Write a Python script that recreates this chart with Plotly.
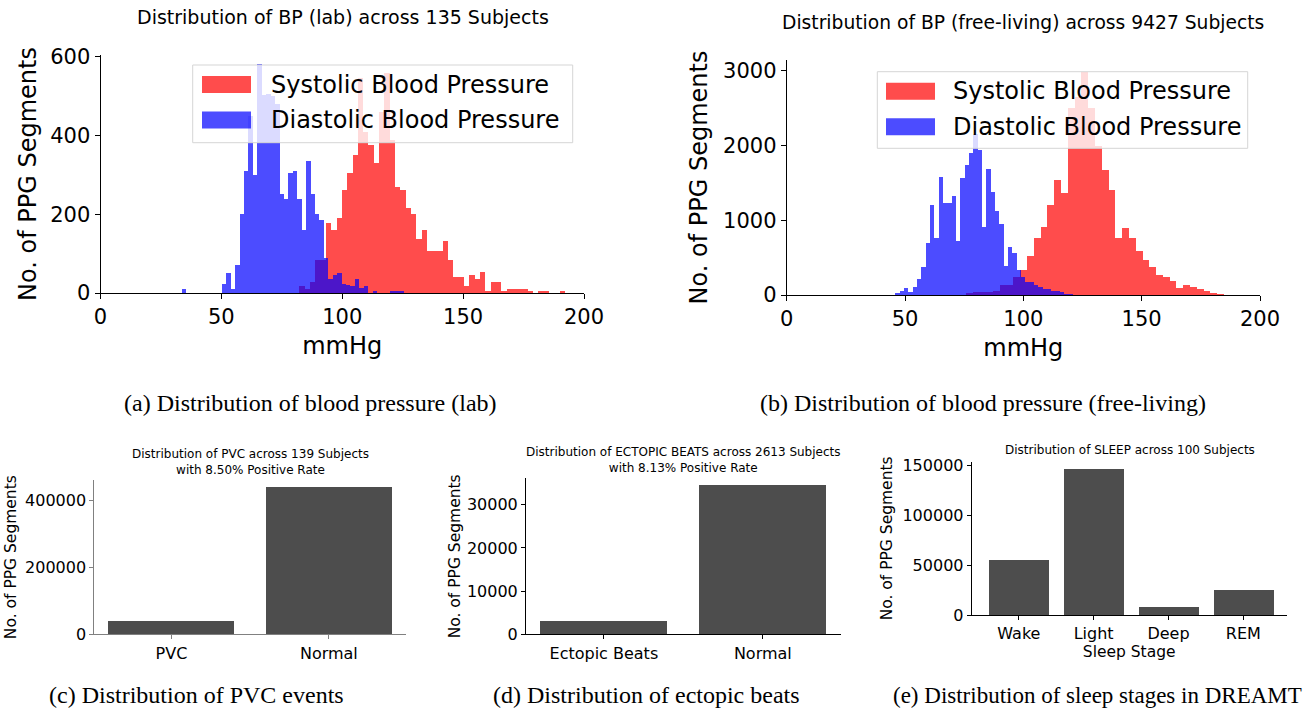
import numpy as np
import plotly.graph_objects as go

# ---------------- data ----------------
# (a) lab blood pressure histograms (50 bins each)
SBP_LAB_START, SBP_LAB_WIDTH = 82.1, 2.196
SBP_LAB_COUNTS = [18, 10, 28, 84, 84, 179, 160, 190, 263, 304,
                  351, 547, 410, 376, 330, 461, 560, 389, 269, 263,
                  215, 202, 137, 160, 107, 107, 107, 132, 84, 40,
                  40, 18, 46, 35, 53, 6, 28, 28, 6, 10,
                  10, 10, 10, 4, 0, 4, 4, 0, 0, 4]
DBP_LAB_START, DBP_LAB_WIDTH = 33.49, 1.834
DBP_LAB_COUNTS = [9, 0, 0, 0, 0, 0, 0, 0, 0, 22,
                  52, 10, 72, 202, 310, 450, 300, 581, 503, 507,
                  500, 480, 252, 239, 304, 310, 239, 160, 335, 251,
                  200, 185, 90, 36, 46, 52, 22, 20, 18, 36,
                  12, 18, 0, 5, 0, 0, 0, 5, 5, 5]
# (b) free-living blood pressure histograms
SBP_FREE_START, SBP_FREE_WIDTH = 75.6, 2.87
SBP_FREE_COUNTS = [30, 35, 40, 45, 55, 134, 134, 245, 335, 522,
                   758, 910, 1205, 1539, 1370, 2500, 2650, 2990, 2500, 1994,
                   1673, 1405, 767, 892, 758, 589, 475, 375, 265, 236,
                   187, 90, 130, 103, 76, 49, 22, 9]
DBP_FREE_START, DBP_FREE_WIDTH = 45.75, 1.83
DBP_FREE_COUNTS = [22, 58, 98, 36, 111, 214, 379, 692, 1205, 767,
                   1575, 1236, 1236, 1325, 723, 1571, 1740, 1900, 2150, 1941,
                   906, 1687, 1374, 1129, 946, 388, 638, 558, 335, 245,
                   170, 178, 134, 112, 80, 80, 54, 54, 36, 18, 18]
# (c) PVC
PVC_CATS = ["PVC", "Normal"]
PVC_VALUES = [40870, 440000]
# (d) ectopic beats
ECT_CATS = ["Ectopic Beats", "Normal"]
ECT_VALUES = [3045, 34400]
# (e) sleep stages
SLEEP_CATS = ["Wake", "Light", "Deep", "REM"]
SLEEP_VALUES = [55800, 146100, 7970, 24900]

BP_TICKS = [0, 50, 100, 150, 200]
LAB_YTICKS = [0, 200, 400, 600]
FREE_YTICKS = [0, 1000, 2000, 3000]

# ---------------- helpers ----------------
W, H = 1307, 711
def fx(p):
    return p / W
def fy(p):
    return 1 - p / H

def edges(start, width, n):
    return [start + width * i for i in range(n)]

FONT = "DejaVu Sans"
SERIF = "Liberation Serif"
RED = "rgba(255,0,0,0.7)"
BLUE = "rgba(0,0,255,0.7)"
GRAY = "#4d4d4d"

fig = go.Figure()

def hist(start, width, counts, color, name, xa, ya):
    fig.add_trace(go.Bar(
        x=edges(start, width, len(counts)), y=counts, width=width, offset=0,
        marker=dict(color=color, line=dict(width=0)), name=name,
        xaxis=xa, yaxis=ya, showlegend=False))

hist(SBP_LAB_START, SBP_LAB_WIDTH, SBP_LAB_COUNTS, RED, "Systolic Blood Pressure", "x", "y")
hist(DBP_LAB_START, DBP_LAB_WIDTH, DBP_LAB_COUNTS, BLUE, "Diastolic Blood Pressure", "x", "y")
hist(SBP_FREE_START, SBP_FREE_WIDTH, SBP_FREE_COUNTS, RED, "Systolic Blood Pressure", "x2", "y2")
hist(DBP_FREE_START, DBP_FREE_WIDTH, DBP_FREE_COUNTS, BLUE, "Diastolic Blood Pressure", "x2", "y2")

for cats, vals, xa, ya in [(PVC_CATS, PVC_VALUES, "x3", "y3"),
                           (ECT_CATS, ECT_VALUES, "x4", "y4"),
                           (SLEEP_CATS, SLEEP_VALUES, "x5", "y5")]:
    fig.add_trace(go.Bar(x=cats, y=vals, width=0.8, marker=dict(color=GRAY, line=dict(width=0)),
                         xaxis=xa, yaxis=ya, showlegend=False))

def axis(domain, rng, tickvals=None, size=21, title=None, tsize=24, standoff=8,
         linecolor="black", ticklen=5, anchor=None):
    d = dict(domain=domain, range=rng, showgrid=False, zeroline=False, automargin=False,
             showline=True, linecolor=linecolor, linewidth=1, tickformat="d",
             ticks="outside", ticklen=ticklen, tickwidth=1, tickcolor=linecolor,
             tickfont=dict(family=FONT, size=size, color="black"))
    if tickvals is not None:
        d["tickvals"] = tickvals
    if title:
        d["title"] = dict(text=title, font=dict(family=FONT, size=tsize, color="black"), standoff=standoff)
    if anchor:
        d["anchor"] = anchor
    return d

layout = dict(
    template="none",
    width=W, height=H, margin=dict(l=0, r=0, t=0, b=0, autoexpand=False),
    paper_bgcolor="white", plot_bgcolor="white", barmode="overlay",
    bargap=0, showlegend=False,
    xaxis=axis([fx(100.5), fx(584)], [0, 200], BP_TICKS, title="mmHg", standoff=8, anchor="y"),
    yaxis=axis([fy(293), fy(55)], [0, 605], LAB_YTICKS, title="No. of PPG Segments", standoff=6, anchor="x"),
    xaxis2=axis([fx(786.7), fx(1260)], [0, 200], BP_TICKS, title="mmHg", standoff=8, anchor="y2"),
    yaxis2=axis([fy(295), fy(60)], [0, 3147], FREE_YTICKS, title="No. of PPG Segments", standoff=8, anchor="x2"),
    xaxis3=axis([fx(94.3), fx(406)], [-0.49, 1.49], None, size=16, linecolor="#808080", ticklen=4, anchor="y3"),
    yaxis3=axis([fy(634.3), fy(480)], [0, 461700], [0, 200000, 400000], size=16,
                title="No. of PPG Segments", tsize=15.5, standoff=4, linecolor="#808080", ticklen=4, anchor="x3"),
    xaxis4=axis([fx(526), fx(840.7)], [-0.49, 1.49], None, size=16, ticklen=4, anchor="y4"),
    yaxis4=axis([fy(634.3), fy(478.3)], [0, 36120], [0, 10000, 20000, 30000], size=16,
                title="No. of PPG Segments", tsize=15.5, standoff=2, ticklen=4, anchor="x4"),
    xaxis5=axis([fx(971.7), fx(1286.7)], [-0.63, 3.58], None, size=16, title="Sleep Stage",
                tsize=15.5, standoff=2, ticklen=4, anchor="y5"),
    yaxis5=axis([fy(615), fy(461.7)], [0, 153400], [0, 50000, 100000, 150000], size=16,
                title="No. of PPG Segments", tsize=15.5, standoff=5, ticklen=4, anchor="x5"),
)
fig.update_layout(**layout)

ann = []
def text(x, y, s, size, family=FONT, xanchor="center"):
    ann.append(dict(x=fx(x), y=fy(y), xref="paper", yref="paper", text=s, showarrow=False,
                    xanchor=xanchor, yanchor="middle", font=dict(family=family, size=size, color="black")))

# subplot titles
text(343, 17, "Distribution of BP (lab) across 135 Subjects", 19)
text(1023, 22, "Distribution of BP (free-living) across 9427 Subjects", 18.7)
text(250, 462, "Distribution of PVC across 139 Subjects<br>with 8.50% Positive Rate", 12)
text(683, 460, "Distribution of ECTOPIC BEATS across 2613 Subjects<br>with 8.13% Positive Rate", 12)
text(1130, 450, "Distribution of SLEEP across 100 Subjects", 12)

# captions
text(310, 403, "(a) Distribution of blood pressure (lab)", 24, SERIF)
text(983, 403, "(b) Distribution of blood pressure (free-living)", 24, SERIF)
text(196, 695, "(c) Distribution of PVC events", 24, SERIF)
text(646, 695, "(d) Distribution of ectopic beats", 24, SERIF)
text(1097, 695, "(e) Distribution of sleep stages in DREAMT", 23, SERIF)

# legends (drawn as boxes above the bars, like matplotlib's framed legend)
shapes = []
def legend(box, patch_x, rows, text_x):
    x0, y0, x1, y1 = box
    shapes.append(dict(type="rect", xref="paper", yref="paper", layer="above",
                       x0=fx(x0), x1=fx(x1), y0=fy(y1), y1=fy(y0),
                       fillcolor="rgba(255,255,255,0.8)", line=dict(color="#d5d5d5", width=1)))
    for (yc, color, label) in rows:
        shapes.append(dict(type="rect", xref="paper", yref="paper", layer="above",
                           x0=fx(patch_x), x1=fx(patch_x + 49), y0=fy(yc + 8.5), y1=fy(yc - 8.5),
                           fillcolor=color, line=dict(width=0)))
        text(text_x, yc, label, 24, FONT, "left")

legend((192.7, 65, 572.7, 142.7), 202,
       [(84.5, RED, "Systolic Blood Pressure"), (120, BLUE, "Diastolic Blood Pressure")], 269)
legend((877.3, 71.7, 1247.7, 148.3), 886,
       [(91.3, RED, "Systolic Blood Pressure"), (126.7, BLUE, "Diastolic Blood Pressure")], 951)

fig.update_layout(annotations=ann, shapes=shapes)
fig.write_html("out.html")
